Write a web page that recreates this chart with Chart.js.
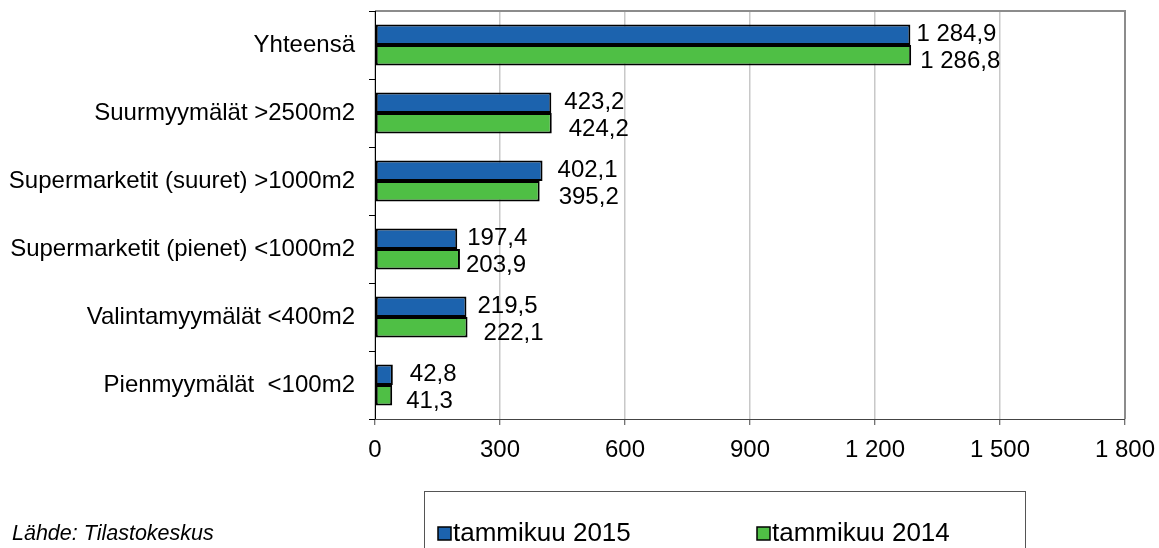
<!DOCTYPE html>
<html>
<head>
<meta charset="utf-8">
<script src="https://cdn.jsdelivr.net/npm/chart.js@4"></script>
<style>
  html, body { margin: 0; padding: 0; background: #fff; }
  #wrap { width: 1159px; height: 548px; }
</style>
</head>
<body>
<div id="wrap"><canvas id="chart" width="1159" height="548"></canvas></div>
<script>
const categories = [
  'Yhteensä',
  'Suurmyymälät >2500m2',
  'Supermarketit (suuret) >1000m2',
  'Supermarketit (pienet) <1000m2',
  'Valintamyymälät <400m2',
  'Pienmyymälät  <100m2'
];
const jan2015 = [1284.9, 423.2, 402.1, 197.4, 219.5, 42.8];
const jan2014 = [1286.8, 424.2, 395.2, 203.9, 222.1, 41.3];
const xTicks = [0, 300, 600, 900, 1200, 1500, 1800];
const source = 'Lähde: Tilastokeskus';

const FONT = 'Liberation Sans, Arial, sans-serif';

function fmt(v, dec) {
  let s = v.toFixed(dec).replace('.', ',');
  let [i, d] = s.split(',');
  i = i.replace(/\B(?=(\d{3})+(?!\d))/g, ' ');
  return d ? i + ',' + d : i;
}

// border round the plot, value labels, legend and source text
const extras = {
  id: 'extras',
  beforeDatasetsDraw(chart) {
    const {ctx, chartArea: a} = chart;
    ctx.save();
    ctx.strokeStyle = '#8c8c8c';
    ctx.lineWidth = 2;
    ctx.beginPath();
    ctx.moveTo(a.left, a.top);
    ctx.lineTo(a.right, a.top);
    ctx.lineTo(a.right, a.bottom);
    ctx.stroke();
    ctx.strokeStyle = '#000';
    ctx.lineWidth = 1;
    ctx.beginPath();
    ctx.moveTo(a.left + 0.5, a.top);
    ctx.lineTo(a.left + 0.5, a.bottom);
    ctx.stroke();
    ctx.strokeStyle = '#444';
    ctx.beginPath();
    ctx.moveTo(a.left, a.bottom + 0.5);
    ctx.lineTo(a.right, a.bottom + 0.5);
    ctx.stroke();
    ctx.restore();
  },
  afterDraw(chart) {
    const {ctx} = chart;
    ctx.save();
    ctx.font = '24px ' + FONT;
    ctx.fillStyle = '#000';
    ctx.textBaseline = 'middle';
    ctx.textAlign = 'left';
    const dy = [0, 6];
    const dx = [[6, 13, 15, 10, 11, 17], [9, 17, 19, 6, 16, 14]];
    chart.data.datasets.forEach((ds, di) => {
      chart.getDatasetMeta(di).data.forEach((bar, i) => {
        ctx.fillText(fmt(ds.data[i], 1), bar.x + dx[di][i], bar.y + dy[di]);
      });
    });

    // legend box
    ctx.strokeStyle = '#555';
    ctx.lineWidth = 1;
    ctx.strokeRect(424.5, 491.5, 601, 70);
    const items = [[438, 453], [757, 772]];
    chart.data.datasets.forEach((ds, di) => {
      const [bx, tx] = items[di];
      ctx.fillStyle = ds.backgroundColor;
      ctx.fillRect(bx, 527, 13, 13);
      ctx.strokeStyle = '#000';
      ctx.lineWidth = 1.5;
      ctx.strokeRect(bx, 527, 13, 13);
      ctx.fillStyle = '#000';
      ctx.font = '26px ' + FONT;
      ctx.fillText(ds.label, tx, 534);
    });

    ctx.font = 'italic 21.5px ' + FONT;
    ctx.fillText(source, 12, 534);
    ctx.restore();
  }
};

new Chart(document.getElementById('chart'), {
  type: 'bar',
  data: {
    labels: categories,
    datasets: [
      {label: 'tammikuu 2015', data: jan2015, backgroundColor: '#1c63ae',
       borderColor: '#000', borderWidth: 2, borderSkipped: false},
      {label: 'tammikuu 2014', data: jan2014, backgroundColor: '#4fbf45',
       borderColor: '#000', borderWidth: 2, borderSkipped: false}
    ]
  },
  options: {
    indexAxis: 'y',
    responsive: false,
    animation: false,
    events: [],
    layout: {padding: {top: 11, right: 34, left: 0, bottom: 0}},
    datasets: {bar: {categoryPercentage: 0.6, barPercentage: 1}},
    plugins: {legend: {display: false}, tooltip: {enabled: false}},
    scales: {
      x: {
        min: 0, max: 1800,
        afterBuildTicks(scale) { scale.ticks = xTicks.map(v => ({value: v})); },
        afterFit(scale) { scale.height = 129; scale.paddingLeft = 0; scale.paddingRight = 0; },
        border: {display: false},
        grid: {color: '#c8c8c8', lineWidth: 1.5, tickLength: 6, tickColor: '#444', tickWidth: 1},
        ticks: {
          color: '#000', padding: 11,
          font: {family: FONT, size: 24},
          callback: v => fmt(v, 0)
        }
      },
      y: {
        afterFit(scale) { scale.width = 375; scale.paddingTop = 0; scale.paddingBottom = 0; },
        border: {display: false},
        grid: {offset: true, drawOnChartArea: false, tickLength: 6, tickColor: '#000'},
        ticks: {
          color: '#000', padding: 14,
          font: {family: FONT, size: 24}
        }
      }
    }
  },
  plugins: [extras]
});
</script>
</body>
</html>
